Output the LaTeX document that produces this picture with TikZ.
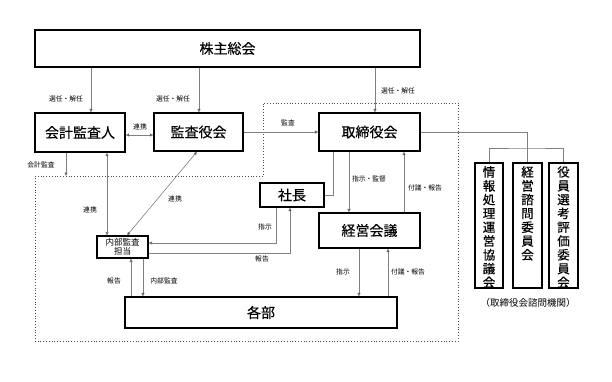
\documentclass[tikz,border=0pt]{standalone}
\usepackage{fontspec}
\setmainfont{Noto Sans CJK JP}
\newfontfamily\jpbold[FakeBold=0.4]{Noto Sans CJK JP}
\usetikzlibrary{arrows.meta}
\tikzset{
  x=1pt,y=-1pt,
  boxA/.style={draw=black,line width=1.3pt,inner sep=0pt,anchor=center,font=\jpbold\fontsize{14}{16}\selectfont},
  boxS/.style={draw=black,line width=1.1pt,inner sep=0pt,align=center,font=\fontsize{8.5}{9.5}\selectfont},
  boxV/.style={draw=black,line width=1.3pt,inner sep=0pt},
  vtext/.style={align=center,inner sep=0pt,anchor=north,font=\jpbold\fontsize{12.5}{13.8}\selectfont},
  lbl/.style={inner sep=0pt,font=\fontsize{6.8}{7}\selectfont},
  con/.style={draw=black!50,line width=0.6pt},
  arr/.style={con,-{Triangle[length=3.5pt,width=3pt,fill=black]}},
  arrb/.style={con,{Triangle[length=3.5pt,width=3pt,fill=black]}-{Triangle[length=3.5pt,width=3pt,fill=black]}},
}
\begin{document}
\begin{tikzpicture}
\useasboundingbox (0,0) rectangle (612,381);
% dotted boundary
\draw[black!70,line width=0.8pt,dotted] (35,176) -- (263,176) -- (263,103) -- (458,103) -- (458,341) -- (35,341) -- cycle;
% boxes
\node[boxA,minimum width=385,minimum height=37] (kabu) at (227.5,48.5) {株主総会};
\node[boxA,minimum width=90,minimum height=39] (kaikei) at (80,132.5) {会計監査人};
\node[boxA,minimum width=89,minimum height=38] (kansa) at (198.5,132) {監査役会};
\node[boxA,minimum width=101,minimum height=38] (tori) at (369.5,132) {取締役会};
\node[boxA,minimum width=64,minimum height=24] (shacho) at (292,195) {社長};
\node[boxA,minimum width=101,minimum height=35] (keiei) at (369.5,230.5) {経営会議};
\node[boxS,minimum width=51,minimum height=22] (naibu) at (122.5,247) {内部監査\\担当};
\node[boxA,minimum width=272,minimum height=31] (kakubu) at (261,312.5) {各部};
% committees
\node[boxV,minimum width=28,minimum height=125] (jouhou) at (489,225.5) {};
\node[boxV,minimum width=29,minimum height=125] (keieishimon) at (527.5,225.5) {};
\node[boxV,minimum width=29,minimum height=125] (yakuin) at (563.5,225.5) {};
\node[vtext] (tj) at (489,166) {情\\報\\処\\理\\運\\営\\協\\議\\会};
\node[vtext] (tk) at (527.5,166) {経\\営\\諮\\問\\委\\員\\会};
\node[vtext] (ty) at (563.5,166) {役\\員\\選\\考\\評\\価\\委\\員\\会};
\node[inner sep=0pt,font=\fontsize{9.5}{11}\selectfont] (shimon) at (528,303) {（取締役会諮問機関）};
% connectors from 株主総会
\draw[arr] (kabu.south -| 91,0) -- (kaikei.north -| 91,0);
\draw[arr] (kabu.south -| 199,0) -- (kansa.north -| 199,0);
\draw[arr] (kabu.south -| 375,0) -- (tori.north -| 375,0);
\node[lbl] (l1) at (66,99) {選任・解任};
\node[lbl] (l2) at (173,99) {選任・解任};
\node[lbl] (l3) at (398,91) {選任・解任};
% 会計監査人 <-> 監査役会
\draw[arrb] (kaikei.east |- 0,135) -- (kansa.west |- 0,135);
\node[lbl] (l4) at (140,127) {連携};
% 監査役会 -> 取締役会
\draw[arr] (kansa.east |- 0,132) -- (tori.west |- 0,132);
\node[lbl] (l5) at (288,123) {監査};
% 会計監査
\coordinate (ka) at (66,176);
\draw[arr] (kaikei.south -| 66,0) -- (ka);
\node[lbl] (l6) at (41,165) {会計監査};
% 連携 with 内部監査
\draw[arrb] (kaikei.south -| 107,0) -- (naibu.north -| 107,0);
\node[lbl] (l7) at (90,210) {連携};
\draw[arrb] (kansa.south -| 197,0) -- (naibu.north -| 127,0);
\node[lbl] (l8) at (175,199) {連携};
% 社長 <-> 内部監査
\draw[arr] (shacho.south -| 276,0) |- (naibu.east |- 0,243);
\draw[arr] (naibu.east |- 0,253) -| (shacho.south -| 290,0);
\node[lbl] (l9) at (265,227) {指示};
\node[lbl] (l10) at (262,259) {報告};
% 内部監査 <-> 各部
\draw[arr] (naibu.south -| 143,0) -- (kakubu.north -| 143,0);
\draw[arr] (kakubu.north -| 131,0) -- (naibu.south -| 131,0);
\node[lbl] (l11) at (114,281) {報告};
\node[lbl] (l12) at (164,281) {内部監査};
% 取締役会 - 社長
\draw[con] (tori.south -| 333,0) |- (shacho.east |- 0,195);
% 取締役会 <-> 経営会議
\draw[arr] (tori.south -| 349,0) -- (keiei.north -| 349,0);
\draw[arr] (keiei.north -| 404,0) -- (tori.south -| 404,0);
\node[lbl] (l13) at (369,179) {指示・監督};
\node[lbl] (l14) at (425,188) {付議・報告};
% 経営会議 <-> 各部
\draw[arr] (keiei.south -| 359,0) -- (kakubu.north -| 359,0);
\draw[arr] (kakubu.north -| 388,0) -- (keiei.south -| 388,0);
\node[lbl] (l15) at (343,272) {指示};
\node[lbl] (l16) at (408,272) {付議・報告};
% 取締役会 -> committees
\draw[con] (tori.east |- 0,132) -| (keieishimon.north);
\draw[con] (jouhou.north) |- (527.5,148) -| (yakuin.north);
\end{tikzpicture}
\end{document}
